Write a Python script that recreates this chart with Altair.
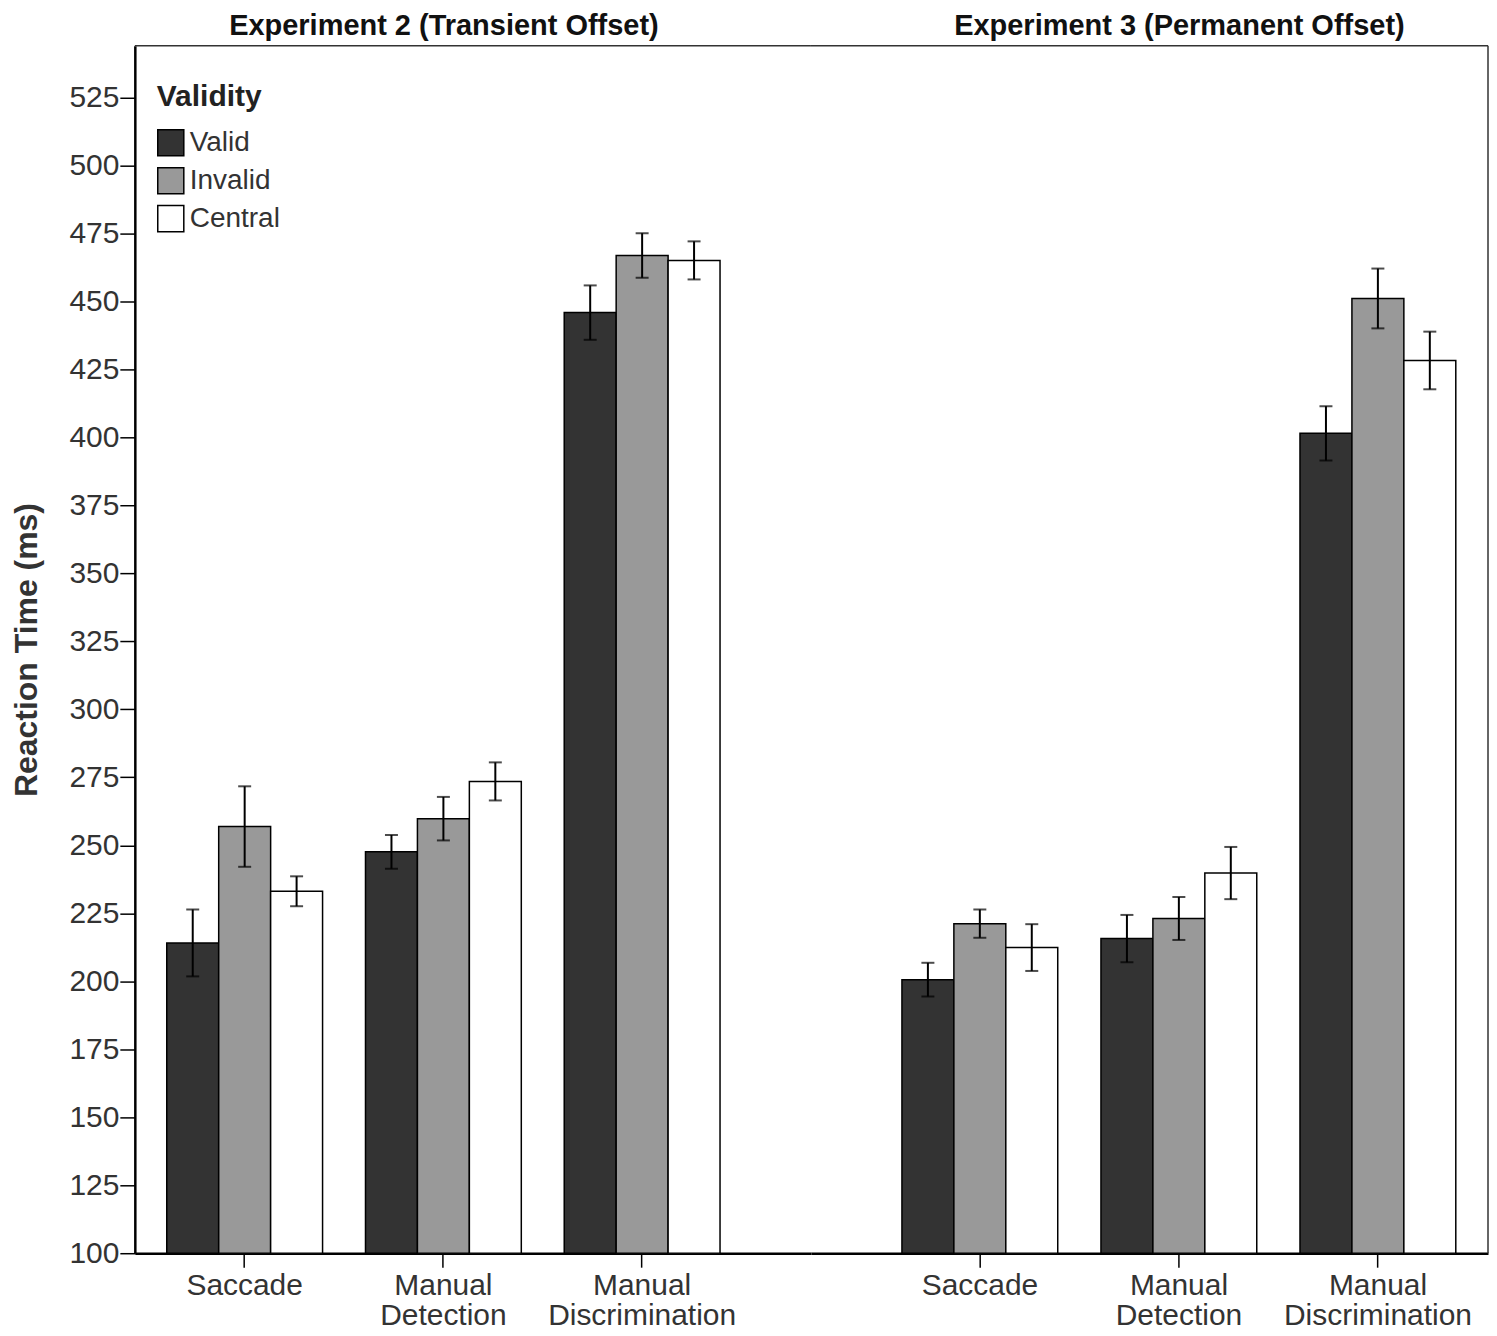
import altair as alt
import pandas as pd

experiments = ["Experiment 2 (Transient Offset)", "Experiment 3 (Permanent Offset)"]
tasks = ["Saccade", "Manual Detection", "Manual Discrimination"]
validity = ["Valid", "Invalid", "Central"]
colors = ["#333333", "#999999", "#ffffff"]

# means per task (rows) x validity (cols)
exp2_mean = [[214.1, 256.9, 233.1], [247.6, 259.8, 273.5], [445.9, 466.9, 465.1]]
exp2_err = [[12.3, 14.8, 5.5], [6.2, 8.0, 7.0], [10.0, 8.2, 7.0]]
exp3_mean = [[200.6, 221.2, 212.4], [215.7, 223.1, 239.8], [401.5, 451.1, 428.3]]
exp3_err = [[6.2, 5.2, 8.6], [8.7, 7.9, 9.6], [10.0, 11.0, 10.6]]

rows = []
for exp, means, errs in [(experiments[0], exp2_mean, exp2_err), (experiments[1], exp3_mean, exp3_err)]:
    for ti, task in enumerate(tasks):
        for vi, val in enumerate(validity):
            m = means[ti][vi]
            e = errs[ti][vi]
            rows.append({"experiment": exp, "task": task, "validity": val,
                         "mean": m, "lo": m - e, "hi": m + e})
df = pd.DataFrame(rows)

H = 1209
FONT = "Liberation Sans, Arial, sans-serif"


def panel(exp_name, width, align, show_y, show_legend, dx):
    d = df[df["experiment"] == exp_name]
    base = alt.Chart(d)
    xaxis = alt.Axis(title=None, labelAngle=0, labelFontSize=30, labelColor="#333333",
                     labelFont=FONT, labelExpr="split(datum.label, ' ')", labelLineHeight=30,
                     labelLimit=0, tickSize=14, tickColor="black", tickWidth=1.5,
                     domainColor="black", domainWidth=2.5, labelPadding=3, grid=False)
    xenc = alt.X("task:N", sort=tasks,
                 scale=alt.Scale(paddingInner=0.216, paddingOuter=0.309, align=align),
                 axis=xaxis)
    xoff = alt.XOffset("validity:N", sort=validity, scale=alt.Scale(paddingInner=0, paddingOuter=0))
    yscale = alt.Scale(domain=[100, 544], nice=False, zero=False)
    if show_y:
        yaxis = alt.Axis(title="Reaction Time (ms)", values=list(range(100, 526, 25)),
                         labelFontSize=30, labelColor="#333333", labelFont=FONT,
                         tickSize=15, tickColor="black", tickWidth=1.5,
                         domainColor="black", domainWidth=2.5, grid=False, labelPadding=1,
                         titleFontSize=32, titleFont=FONT, titleColor="#333333",
                         titleFontWeight="bold", titlePadding=25)
    else:
        yaxis = alt.Axis(title=None, labels=False, ticks=False, domain=False, grid=False)
    if show_legend:
        legend = alt.Legend(title="Validity", orient="none", legendX=22, legendY=36,
                            titleFontSize=30, titleFont=FONT, titleFontWeight="bold",
                            titleColor="#222222", labelFontSize=28, labelFont=FONT,
                            labelColor="#333333", symbolType="square", symbolSize=680,
                            symbolStrokeColor="black", symbolStrokeWidth=1.5,
                            rowPadding=4, titlePadding=17, labelOffset=5)
    else:
        legend = None
    fill = alt.Fill("validity:N", sort=validity,
                    scale=alt.Scale(domain=validity, range=colors), legend=legend)
    bars = base.mark_bar(stroke="black", strokeWidth=1.5, clip=True).encode(
        x=xenc, xOffset=xoff,
        y=alt.Y("mean:Q", scale=yscale, axis=yaxis),
        y2=alt.datum(100),
        fill=fill,
    )
    err = base.mark_rule(color="black", strokeWidth=2).encode(
        x=xenc, xOffset=xoff,
        y=alt.Y("lo:Q", scale=yscale, axis=yaxis), y2="hi:Q")
    cap_lo = base.mark_tick(orient="horizontal", size=13, thickness=2, color="black").encode(
        x=xenc, xOffset=xoff, y=alt.Y("lo:Q", scale=yscale, axis=yaxis))
    cap_hi = base.mark_tick(orient="horizontal", size=13, thickness=2, color="black").encode(
        x=xenc, xOffset=xoff, y=alt.Y("hi:Q", scale=yscale, axis=yaxis))
    frame = pd.DataFrame({"k": [0]})
    top = alt.Chart(frame).mark_rule(color="#333333", strokeWidth=1.5).encode(
        x=alt.value(0), x2=alt.value(width), y=alt.value(0))
    layers = [bars, err, cap_lo, cap_hi, top]
    if not show_y:
        right = alt.Chart(frame).mark_rule(color="#333333", strokeWidth=1.5).encode(
            x=alt.value(width), y=alt.value(0), y2=alt.value(H))
        layers.append(right)
    return alt.layer(*layers).properties(
        width=width, height=H,
        title=alt.Title(exp_name, fontSize=29, font=FONT, fontWeight="bold", color="#111111",
                        anchor="middle", dx=dx, offset=4),
    )


left = panel(experiments[0], 677, 0.26, True, True, -29)
right = panel(experiments[1], 678, 0.74, False, False, 30)

chart = alt.hconcat(left, right, spacing=0, bounds="flush").resolve_scale(
    x="independent", fill="independent"
).resolve_legend(fill="independent").properties(
    padding={"left": 2, "top": 3, "right": 0, "bottom": 0}
).configure(font=FONT).configure_view(stroke=None, strokeWidth=0).configure_axis(grid=False)

chart.save("out.html", embed_options={"renderer": "svg", "actions": False})
